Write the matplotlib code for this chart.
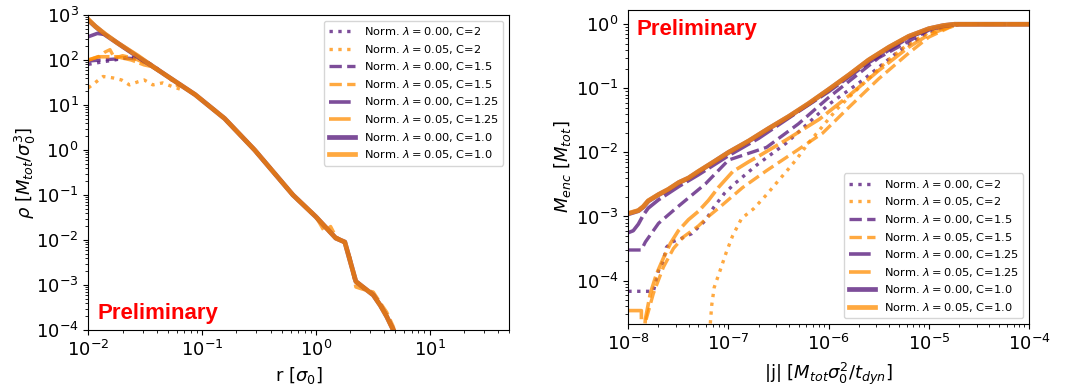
import matplotlib
matplotlib.use("Agg")
import matplotlib.pyplot as plt

# ---------------- colours ----------------
PURPLE = "#5c2180"
ORANGE = "#ff8c00"

labels = [
    r"Norm. $\lambda = 0.00$, C=2",
    r"Norm. $\lambda = 0.05$, C=2",
    r"Norm. $\lambda = 0.00$, C=1.5",
    r"Norm. $\lambda = 0.05$, C=1.5",
    r"Norm. $\lambda = 0.00$, C=1.25",
    r"Norm. $\lambda = 0.05$, C=1.25",
    r"Norm. $\lambda = 0.00$, C=1.0",
    r"Norm. $\lambda = 0.05$, C=1.0",
]

# ---------------- left panel: density profile ----------------
# shared outer profile (runs coincide here)
r_tail = [0.05, 0.087, 0.158, 0.29, 0.63, 1.0, 1.5, 1.8, 2.25, 2.6, 3.2, 3.7, 4.2, 4.8, 5.3]
rho_tail = [43, 17, 5.0, 1.0, 0.1, 0.033, 0.011, 0.009, 0.0012, 0.0009, 0.0006, 0.00035,
            0.0002, 0.0001, 0.00004]
# noisier outer profile of the lambda=0.05, C=1.5 run
r_tail_c15_l5 = [0.05, 0.087, 0.158, 0.29, 0.63, 0.75, 1.0, 1.2, 1.35, 1.5, 1.8, 2.0, 2.25,
                 2.6, 3.2, 3.7, 4.2, 4.8, 5.3]
rho_tail_c15_l5 = [43, 17, 5.0, 1.0, 0.1, 0.065, 0.033, 0.015, 0.02, 0.012, 0.0085, 0.004,
                   0.0009, 0.0008, 0.0007, 0.0004, 0.00025, 0.00012, 0.00005]

# inner parts of each run
r_c2_l0 = [0.010, 0.013, 0.017, 0.022, 0.028, 0.033, 0.040]
rho_c2_l0 = [80, 90, 100, 115, 110, 90, 65]
r_c2_l5 = [0.010, 0.0135, 0.0165, 0.0196, 0.023, 0.0275, 0.031, 0.037, 0.045, 0.054, 0.066]
rho_c2_l5 = [24, 43, 40, 36, 28, 33, 36, 28, 31, 26, 22]
r_c15_l0 = [0.010, 0.013, 0.017, 0.022, 0.028, 0.034]
rho_c15_l0 = [95, 100, 105, 110, 105, 85]
r_c15_l5 = [0.010, 0.0125, 0.014, 0.0155, 0.017, 0.020, 0.025, 0.030, 0.036]
rho_c15_l5 = [100, 120, 150, 170, 110, 125, 110, 90, 75]
r_c125_l0 = [0.010, 0.012, 0.014, 0.018, 0.027, 0.036]
rho_c125_l0 = [330, 390, 370, 240, 120, 75]
r_c125_l5 = [0.010, 0.0122, 0.018, 0.024, 0.031, 0.036]
rho_c125_l5 = [100, 118, 118, 100, 78, 72]
r_c10_l0 = [0.010, 0.0115, 0.014, 0.018, 0.027, 0.036]
rho_c10_l0 = [770, 560, 370, 240, 120, 75]
r_c10_l5 = [0.010, 0.0115, 0.014, 0.018, 0.027, 0.036]
rho_c10_l5 = [800, 560, 380, 240, 125, 75]

left_r = [r_c2_l0 + r_tail, r_c2_l5 + r_tail, r_c15_l0 + r_tail, r_c15_l5 + r_tail_c15_l5,
          r_c125_l0 + r_tail, r_c125_l5 + r_tail, r_c10_l0 + r_tail, r_c10_l5 + r_tail]
left_rho = [rho_c2_l0 + rho_tail, rho_c2_l5 + rho_tail, rho_c15_l0 + rho_tail,
            rho_c15_l5 + rho_tail_c15_l5, rho_c125_l0 + rho_tail, rho_c125_l5 + rho_tail,
            rho_c10_l0 + rho_tail, rho_c10_l5 + rho_tail]

# ---------------- right panel: enclosed mass vs |j| ----------------
j_c2_l0 = [1.0e-8, 1.78e-8, 2.0e-8, 2.24e-8, 2.4e-8, 2.7e-8, 3.3e-8, 4.3e-8, 5.9e-8, 7.1e-8,
           9.1e-8, 1.15e-7, 1.9e-7, 3.8e-7, 1.0e-6, 2.2e-6, 5.0e-6, 1.0e-5, 1.6e-5, 2.0e-5, 1.0e-4]
M_c2_l0 = [6.8e-5, 6.8e-5, 1.41e-4, 2.04e-4, 3.3e-4, 3.98e-4, 4.47e-4, 5.4e-4, 8.7e-4, 1.38e-3,
           2.29e-3, 3.24e-3, 6.3e-3, 1.41e-2, 5.6e-2, 0.135, 0.38, 0.76, 0.93, 1.0, 1.0]

j_c2_l5 = [6.0e-8, 6.8e-8, 7.2e-8, 8.3e-8, 9.5e-8, 1.1e-7, 1.35e-7, 1.78e-7, 2.4e-7, 3.0e-7,
           4.0e-7, 4.8e-7, 6.3e-7, 8.1e-7, 1.2e-6, 1.74e-6, 2.5e-6, 4.0e-6, 6.3e-6, 1.0e-5,
           1.6e-5, 2.0e-5, 1.0e-4]
M_c2_l5 = [3.2e-6, 4.1e-5, 7.8e-5, 1.48e-4, 2.75e-4, 5.0e-4, 9.3e-4, 1.32e-3, 2.19e-3, 3.31e-3,
           5.6e-3, 7.9e-3, 1.41e-2, 2.24e-2, 4.68e-2, 8.3e-2, 0.141, 0.282, 0.50, 0.74,
           0.93, 1.0, 1.0]

j_c15_l0 = [1.0e-8, 1.35e-8, 1.48e-8, 2.0e-8, 2.95e-8, 5.9e-8, 1.0e-7, 2.4e-7, 5.0e-7, 1.0e-6,
            3.16e-6, 1.0e-5, 1.8e-5, 1.0e-4]
M_c15_l0 = [3.0e-4, 3.0e-4, 4.0e-4, 7.8e-4, 1.32e-3, 3.24e-3, 7.6e-3, 1.2e-2, 2.8e-2, 7.2e-2,
            0.30, 0.81, 1.0, 1.0]

j_c15_l5 = [1.0e-8, 1.38e-8, 1.51e-8, 1.78e-8, 2.24e-8, 2.82e-8, 3.55e-8, 5.0e-8, 6.3e-8, 8.1e-8,
            1.38e-7, 2.4e-7, 4.8e-7, 8.7e-7, 1.58e-6, 3.16e-6, 6.3e-6, 1.0e-5, 1.6e-5, 2.0e-5,
            1.0e-4]
M_c15_l5 = [3.2e-6, 3.2e-6, 2.5e-5, 6.3e-5, 1.62e-4, 3.16e-4, 4.8e-4, 7.1e-4, 1.0e-3, 1.38e-3,
            2.82e-3, 5.2e-3, 1.07e-2, 2.0e-2, 5.0e-2, 0.141, 0.355, 0.63, 0.89, 1.0, 1.0]

j_c125_l0 = [1.0e-8, 1.12e-8, 1.26e-8, 1.41e-8, 1.58e-8, 2.0e-8, 3.2e-8, 5.0e-8, 1.0e-7, 2.0e-7,
             5.0e-7, 1.0e-6, 2.5e-6, 6.3e-6, 1.0e-5, 1.6e-5, 2.0e-5, 1.0e-4]
M_c125_l0 = [5.6e-4, 6.0e-4, 7.6e-4, 1.05e-3, 1.35e-3, 1.82e-3, 2.95e-3, 4.47e-3, 8.9e-3,
             1.66e-2, 4.37e-2, 8.9e-2, 0.251, 0.617, 0.832, 0.955, 1.0, 1.0]

j_c125_l5 = [1.0e-8, 1.35e-8, 1.36e-8, 1.48e-8, 1.66e-8, 1.91e-8, 2.24e-8, 2.63e-8, 3.16e-8,
             3.98e-8, 5.0e-8, 6.3e-8, 7.9e-8, 1.1e-7, 1.58e-7, 2.04e-7, 3.8e-7, 8.1e-7, 1.58e-6,
             3.16e-6, 6.3e-6, 1.0e-5, 1.6e-5, 2.0e-5, 1.0e-4]
M_c125_l5 = [3.4e-5, 3.4e-5, 3.2e-6, 2.5e-5, 6.3e-5, 1.26e-4, 2.24e-4, 3.8e-4, 6.0e-4, 8.9e-4,
             1.2e-3, 1.78e-3, 2.82e-3, 5.0e-3, 7.1e-3, 8.9e-3, 1.58e-2, 3.31e-2, 7.6e-2, 0.19,
             0.44, 0.69, 0.91, 1.0, 1.0]

j_c10 = [1.0e-8, 1.26e-8, 1.41e-8, 1.58e-8, 2.0e-8, 2.5e-8, 3.2e-8, 4.0e-8, 5.0e-8, 7.1e-8,
         1.0e-7, 1.6e-7, 2.5e-7, 4.0e-7, 6.3e-7, 1.0e-6, 1.6e-6, 2.5e-6, 4.0e-6, 6.3e-6,
         1.0e-5, 1.4e-5, 1.8e-5, 2.5e-5, 1.0e-4]
M_c10_l0 = [1.10e-3, 1.23e-3, 1.41e-3, 1.74e-3, 2.19e-3, 2.63e-3, 3.39e-3, 3.98e-3, 5.01e-3,
            7.08e-3, 1.0e-2, 1.51e-2, 2.34e-2, 3.63e-2, 5.75e-2, 9.55e-2, 0.162, 0.275, 0.437,
            0.646, 0.851, 0.955, 1.0, 1.0, 1.0]
M_c10_l5 = [1.12e-3, 1.24e-3, 1.43e-3, 1.76e-3, 2.2e-3, 2.65e-3, 3.4e-3, 4.0e-3, 5.05e-3,
            7.1e-3, 1.0e-2, 1.52e-2, 2.35e-2, 3.65e-2, 5.8e-2, 9.6e-2, 0.163, 0.277, 0.44,
            0.65, 0.853, 0.956, 1.0, 1.0, 1.0]

right_j = [j_c2_l0, j_c2_l5, j_c15_l0, j_c15_l5, j_c125_l0, j_c125_l5, j_c10, j_c10]
right_M = [M_c2_l0, M_c2_l5, M_c15_l0, M_c15_l5, M_c125_l0, M_c125_l5, M_c10_l0, M_c10_l5]

# ---------------- styles ----------------
colors = [PURPLE, ORANGE] * 4
alphas = [0.8, 0.75] * 4
styles = [":", ":", "--", "--", (0, (6, 1.3)), (0, (6, 1.3)), "-", "-"]
widths = [2.4, 2.4, 2.4, 2.4, 2.6, 2.6, 3.4, 3.4]

plt.rcParams["font.family"] = "DejaVu Sans"
fig = plt.figure(figsize=(10.68, 3.89), dpi=100)
ax1 = fig.add_axes([0.0827, 0.1517, 0.3939, 0.8097])
ax2 = fig.add_axes([0.5883, 0.1671, 0.3752, 0.8072])

for k in range(8):
    ax1.plot(left_r[k], left_rho[k], color=colors[k], ls=styles[k],
             lw=widths[k], alpha=alphas[k], label=labels[k])
    ax2.plot(right_j[k], right_M[k], color=colors[k], ls=styles[k],
             lw=widths[k], alpha=alphas[k], label=labels[k])

for ax in (ax1, ax2):
    ax.set_xscale("log")
    ax.set_yscale("log")
    ax.tick_params(labelsize=13)

ax1.set_xlim(1e-2, 50)
ax1.set_ylim(1e-4, 1e3)
ax1.set_xlabel(r"r [$\sigma_0$]", fontsize=13, labelpad=4)
ax1.set_ylabel(r"$\rho$ [$M_{tot}/\sigma_0^3$]", fontsize=13, labelpad=-2)
ax1.legend(loc="upper right", fontsize=8.2, handlelength=2.3, labelspacing=0.4)
ax1.text(0.022, 0.035, "Preliminary", transform=ax1.transAxes, color="red",
         fontsize=16, fontweight="bold", family="Liberation Sans")

ax2.set_xlim(1e-8, 1e-4)
ax2.set_ylim(2.1e-5, 1.67)
ax2.set_xlabel(r"|j| [$M_{tot}\sigma_0^2/t_{dyn}$]", fontsize=13, labelpad=5)
ax2.set_ylabel(r"$M_{enc}$ [$M_{tot}$]", fontsize=13, labelpad=2)
ax2.legend(loc="lower right", fontsize=8.2, handlelength=2.3, labelspacing=0.4)
ax2.text(0.02, 0.972, "Preliminary", transform=ax2.transAxes, color="red",
         fontsize=16, fontweight="bold", family="Liberation Sans", va="top")

fig.savefig("out.png", dpi=100)
